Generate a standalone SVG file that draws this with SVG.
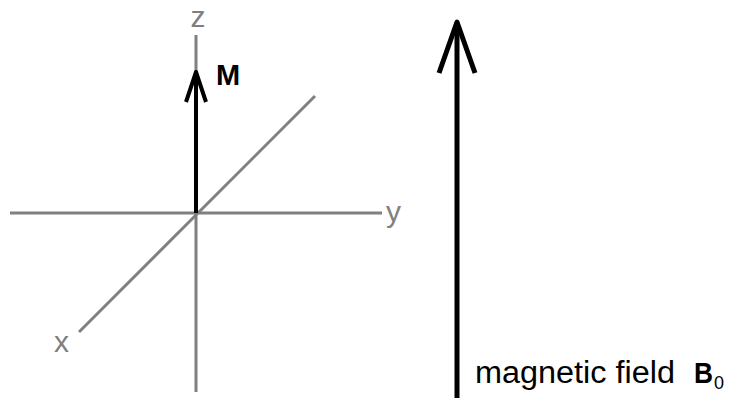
<svg xmlns="http://www.w3.org/2000/svg" width="734" height="398" viewBox="0 0 734 398">
<style>
.axis{stroke:#808080;stroke-width:3;fill:none}
.vec{stroke:#000;fill:none;stroke-linecap:butt}
.lbl{font-family:"Liberation Sans",Arial,sans-serif;fill:#808080;font-size:30px}
.txt{font-family:"Liberation Sans",Arial,sans-serif;fill:#000}
</style>
<rect width="734" height="398" fill="#fff"/>
<g id="axes">
<line class="axis" x1="196" y1="35" x2="196" y2="392"/>
<line class="axis" x1="10" y1="213" x2="382" y2="213"/>
<line class="axis" stroke-width="2.5" x1="79" y1="332" x2="315" y2="96"/>
<text class="lbl" x="198" y="27" text-anchor="middle">z</text>
<text class="lbl" x="386" y="222">y</text>
<text class="lbl" x="54" y="352">x</text>
</g>
<g id="M">
<line class="vec" stroke-width="4" x1="196" y1="213" x2="196" y2="72"/>
<polyline class="vec" stroke-width="4" stroke-linejoin="round" points="186,102 196,72 206,102"/>
<text class="txt" x="216" y="85" font-size="29" font-weight="bold">M</text>
</g>
<g id="B0">
<line class="vec" stroke-width="5" x1="457" y1="24" x2="457" y2="398"/>
<polyline class="vec" stroke-width="5" stroke-linejoin="round" points="439,73 457,22 475,73"/>
<text class="txt" x="475" y="383" font-size="31" textLength="200" lengthAdjust="spacingAndGlyphs">magnetic field</text>
<text class="txt" x="694" y="383" font-size="29" font-weight="bold" textLength="19" lengthAdjust="spacingAndGlyphs">B</text>
<text class="txt" x="714" y="389" font-size="18">0</text>
</g>
</svg>
